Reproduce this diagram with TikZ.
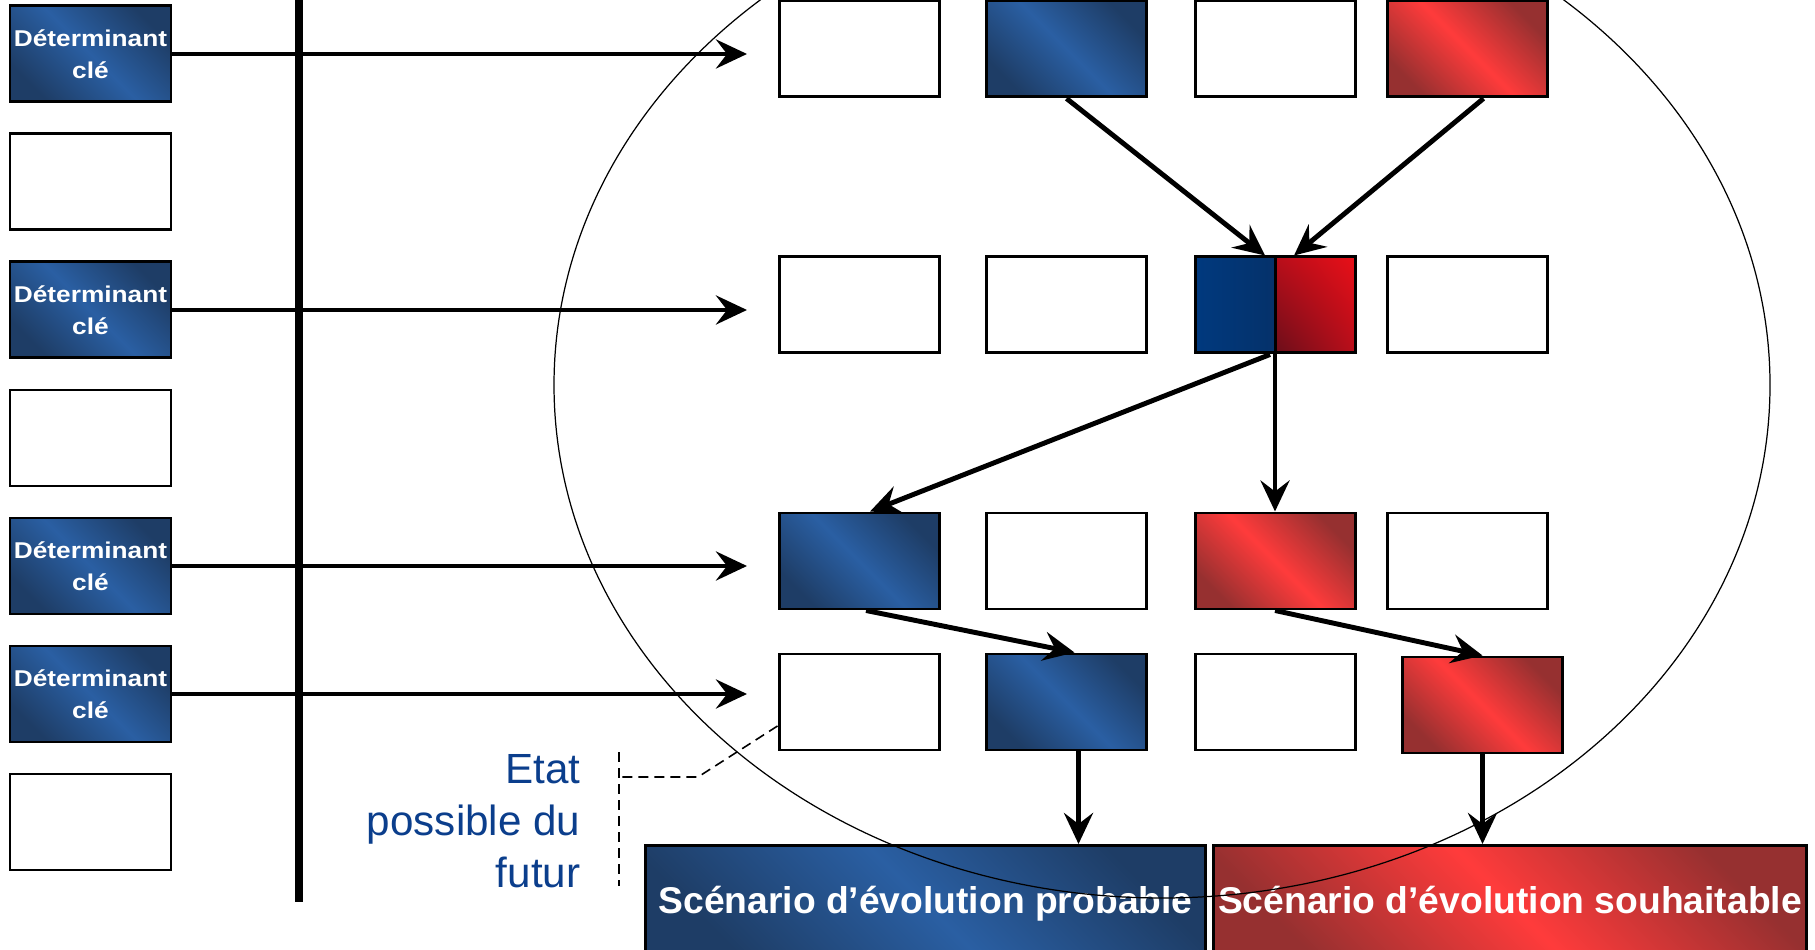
\documentclass[tikz,border=0pt]{standalone}
\usepackage{fontspec}
\setmainfont{Liberation Sans}
\newfontfamily\keyfont[FakeStretch=1.15]{Liberation Sans}
\usetikzlibrary{arrows.meta,shadings}

\definecolor{detBlue}{HTML}{2A5FA3}
\definecolor{detBlueDark}{HTML}{1E3D66}
\definecolor{detRed}{HTML}{FF3B3B}
\definecolor{detRedDark}{HTML}{963030}
\definecolor{mixBlue}{HTML}{00397E}
\definecolor{mixBlueDark}{HTML}{0A2A56}
\definecolor{mixRed}{HTML}{E80F18}
\definecolor{mixRedMid}{HTML}{B80E1A}
\definecolor{mixRedDark}{HTML}{6A0E1A}
\definecolor{etatBlue}{HTML}{0B3E8C}

\tikzset{
	box/.style={draw=black, line width=0.85pt, minimum width=16mm, minimum height=9.6mm, inner sep=0pt},
	blank/.style={box, fill=white},
	bluebox/.style={box, top color=detBlueDark, bottom color=detBlueDark, middle color=detBlue, shading angle=-45},
	redbox/.style={box, top color=detRedDark, bottom color=detRedDark, middle color=detRed, shading angle=-45},
	keybox/.style={bluebox, minimum width=16.1mm, text=white, align=center, font=\keyfont\bfseries\fontsize{6.5}{9.2}\selectfont},
	mixbox/.style={box, path picture={
		\shade[left color=mixBlue, right color=mixBlueDark] (path picture bounding box.south west) rectangle (path picture bounding box.north);
		\shade[lower left=mixRedDark, upper right=mixRed, upper left=mixRedMid, lower right=mixRedMid] (path picture bounding box.south) rectangle (path picture bounding box.north east);
		\draw[line width=0.85pt] (path picture bounding box.south) -- (path picture bounding box.north);
	}},
	scenario/.style={minimum height=11.6mm, anchor=north west, inner sep=0pt, text height=8pt, text depth=2.4pt, text=white, font=\bfseries\fontsize{10.6}{12}\selectfont},
	flow/.style={-{Stealth[length=3.1mm, width=2.9mm, inset=1.1mm]}, line width=1.4pt},
	bracket/.style={line width=0.45pt, dash pattern=on 1mm off 0.6mm}
}

\begin{document}
\begin{tikzpicture}[x=0.1mm, y=-0.1mm]
		\useasboundingbox (0,0) rectangle (1815,950);
	
		% axe des determinants
		\draw[line width=2.3pt] (299,-10) to (299,902);
	
		\foreach \i in {1,3,5,6}{
			\node[keybox] (k\i) at (90.5,{54+(\i-1)*128}) {Déterminant\\clé};
		}
		\foreach \i in {2,4,7}{
			\node[blank, minimum width=16.1mm] (k\i) at (90.5,{54+(\i-1)*128}) {};
		}
	
		\coordinate (tip) at (747,0);
		\foreach \i in {1,3,5,6}{
			\draw[flow] (k\i.east) -- (k\i.east -| tip);
		}
	
		% etats possibles
		\foreach \c/\x in {1/859,2/1066.5,3/1275,4/1467.5}
			\coordinate (c\c) at (\x,0);
		\foreach \r/\y in {1/49,2/305,3/561,4/702}
			\coordinate (r\r) at (0,\y);
	
		\foreach \r/\c in {1/1,1/3,2/1,2/2,2/4,3/2,3/4,4/1,4/3}{
			\node[blank] (s\r\c) at (c\c |- r\r) {};
		}
		\node[bluebox] (s12) at (c2 |- r1) {};
		\node[redbox] (s14) at (c4 |- r1) {};
		\node[mixbox] (s23) at (c3 |- r2) {};
		\node[bluebox] (s31) at (c1 |- r3) {};
		\node[redbox] (s33) at (c3 |- r3) {};
		\node[bluebox] (s42) at (c2 |- r4) {};
		\node[redbox] (s44) at ([xshift=1.5mm, yshift=-0.3mm]c4 |- r4) {};
	
		% scenarios
		\node[bluebox, scenario, minimum width=56mm] (probable) at (644,844) {Scénario d’évolution probable};
		\node[redbox, scenario, minimum width=59.3mm] (souhait) at (1212,844) {Scénario d’évolution souhaitable};
	
		\draw[flow] (s12.south) -- ([xshift=-1mm]s23.north);
		\draw[flow] ([xshift=1.6mm]s14.south) -- ([xshift=1.9mm]s23.north);
		\draw[flow] ([xshift=-0.5mm]s23.south) -- ([xshift=1.1mm]s31.north);
		\draw[flow] (s23.south) -- (s33.north);
		\draw[flow] ([xshift=0.7mm]s31.south) -- ([xshift=0.8mm]s42.north);
		\draw[flow] (s33.south) -- (s44.north);
		\draw[flow] ([xshift=1.2mm]s42.south) -- ([xshift=1.2mm]s42.south |- probable.north);
		\draw[flow] (s44.south) -- (s44.south |- souhait.north);
	
		% legende
		\node[anchor=east, align=right, inner sep=0pt, text=etatBlue, font=\fontsize{12}{14.8}\selectfont] (etat) at (581,821) {Etat\\possible du\\futur};
		\coordinate (b1) at (619,752);
		\coordinate (b2) at (619,886);
		\coordinate (knee) at (698,777);
		\draw[bracket] (b1) -- (b2);
		\draw[bracket] ([yshift=-2.4mm]s41.west) -- (knee) -- (knee -| b1);
	
		\draw[line width=0.35pt] (1162,385) ellipse [x radius=60.8mm, y radius=51.3mm];
	\end{tikzpicture}
\end{document}
